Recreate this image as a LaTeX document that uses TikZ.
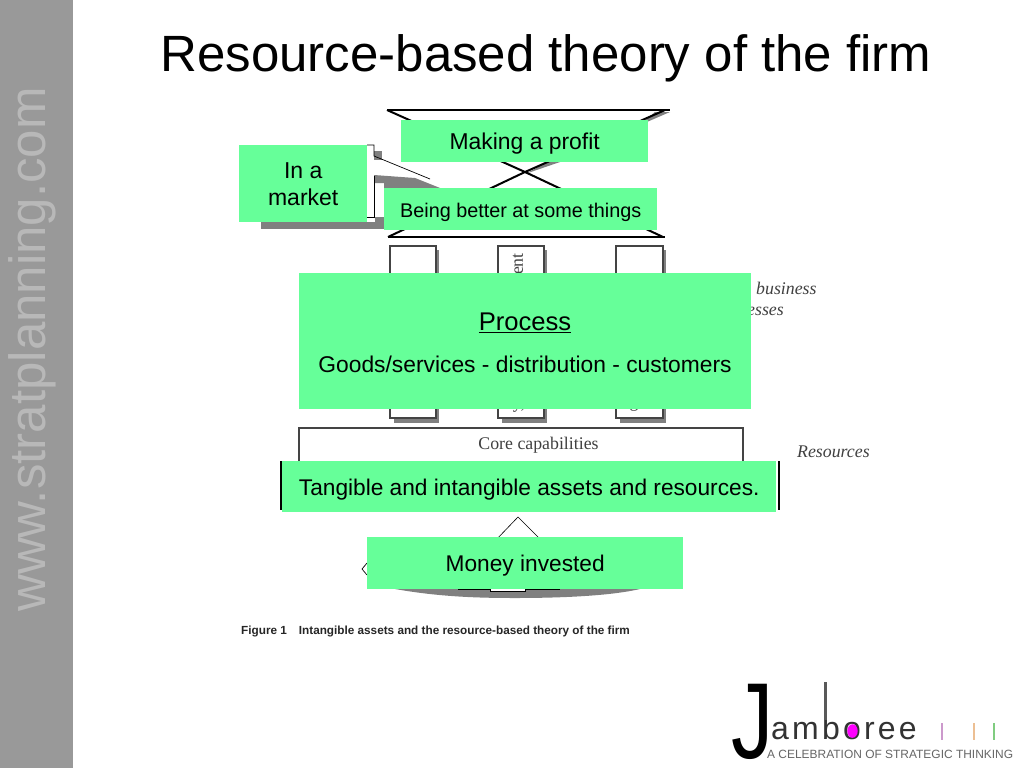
\documentclass[tikz,border=0pt]{standalone}
\usepackage{fontspec}
\setmainfont{Liberation Sans}
\newfontfamily\serifx{Liberation Serif}
\usetikzlibrary{calc}
\definecolor{mint}{HTML}{66FF99}
\definecolor{sidegrey}{HTML}{999999}
\definecolor{sidetext}{HTML}{B8B8B8}
\definecolor{shadecol}{HTML}{808080}
\definecolor{rule}{HTML}{444444}
\definecolor{pinkdot}{HTML}{FF00FF}
\tikzset{
  x=1pt,y=-1pt,
  greenbox/.style={fill=mint,draw=none,inner sep=0pt,text=black,anchor=north west},
  figbox/.style={draw=rule,line width=1.3pt,fill=white},
  shadowfill/.style={fill=shadecol,draw=none},
  scan/.style={font=\serifx\fontsize{17.8}{20}\selectfont,text=black!75,inner sep=0pt},
  scanit/.style={font=\serifx\itshape\fontsize{17.8}{20}\selectfont,text=black!75,inner sep=0pt},
}
\newcommand{\gbox}[6]{\node[greenbox,minimum width=#3pt,minimum height=#4pt,font=\fontsize{#5}{27.6}\selectfont] (#1) at (#2) {\raisebox{-2.8pt}[\height][\depth]{\begin{tabular}{@{}c@{}}#6\end{tabular}}};}
\begin{document}
\begin{tikzpicture}
\useasboundingbox (0,0) rectangle (1024,768);
\fill[white] (0,0) rectangle (1024,768);
% sidebar
\fill[sidegrey] (0,0) rectangle (73,768);
\node[rotate=90,text=sidetext,font=\fontsize{51}{56}\selectfont,inner sep=0pt] (site) at (32,349.5) {www.stratplanning.com};
% title
\node[font=\fontsize{51}{58}\selectfont,inner sep=0pt] (title) at (546,58) {Resource-based theory of the firm};

% hourglass
\fill[shadowfill] (655,112) -- (670,112) -- (640,125) -- cycle;
\fill[shadowfill] (525,174) -- (560,162) -- (548,162) -- cycle;
\draw[line width=1.8pt,black] (387,110) -- (670,110);
\draw[line width=2pt,black] (387,110) -- (525,172) -- (663,237);
\draw[line width=2pt,black] (665,110) -- (525,172) -- (388,237);
\draw[line width=1.8pt,black] (388,237) -- (665,237);

% callout
\fill[shadowfill] (261,222) rectangle (384,229);
\fill[shadowfill] (375,217) rectangle (384,229);
\fill[shadowfill] (374,151) rectangle (382,160);
\fill[shadowfill] (374,175) -- (415,178) -- (440,188) -- (384,188) -- (384,183) -- (374,183) -- cycle;
\draw[line width=.7pt,black] (367,145) -- (374,145) -- (374,156) -- (430,179);
\draw[line width=.7pt,black] (374,176) -- (374,217) -- (367,217);

% three columns
\foreach \nm/\xa/\xb in {colA/390/436,colB/498/544,colC/616/663}{
  \fill[shadowfill] (\xa+4,250) rectangle (\xb+3,423);
  \draw[figbox] (\xa,246) rectangle (\xb,418);
}
\begin{scope}
\clip (498,246) rectangle (544,273);
\node[scan,rotate=90,anchor=east] (colBtxt) at (518,253) {ent};
\end{scope}
\begin{scope}
\clip (498,409) rectangle (544,417);
\node[scan,anchor=base] (colBy) at (519,408) {y,};
\end{scope}
\begin{scope}
\clip (616,409) rectangle (663,417);
\node[scan,anchor=base] (colCg) at (634,407.5) {g};
\end{scope}

\node[scanit,anchor=base west] (biz) at (756,294) {business};
\node[scanit,anchor=base east] (ess) at (784,315) {esses};
\node[scanit,anchor=base west] (res) at (797,457) {Resources};

% core capabilities
\draw[rule,line width=2pt,fill=white] (299,470) -- (299,427.5) -- (743,427.5) -- (743,470);
\node[scan] (core) at (538.5,445) {Core capabilities};
% resources box edges
\draw[black,line width=2.4pt] (281,461) -- (281,510);
\draw[black,line width=2.4pt] (779,461) -- (779,510);

% money triangle and base
\draw[black,line width=.6pt] (494,542) -- (518,517) -- (543,542);
\draw[black,line width=.7pt] (367,563) -- (362,569) -- (367,575);
\fill[shadowfill] (395,589) .. controls (440,597) and (480,598) .. (515,598) .. controls (560,598) and (610,596) .. (640,589) -- cycle;
\fill[white] (490,589) rectangle (525,591);
\draw[black,line width=.6pt] (458,589.5) -- (490,589.5) -- (490,591) -- (525,591) -- (525,589.5) -- (560,589.5);

% green boxes
\gbox{profit}{401,120}{247}{42}{22.9}{Making a profit}
\gbox{market}{239,145}{128}{77}{23}{In a\\market}
\gbox{better}{384,188}{273}{42}{19.8}{Being better at some things}
\node[greenbox,minimum width=452.5pt,minimum height=136pt] (process) at (298.5,273) {};
\node[font=\fontsize{25.6}{30}\selectfont,inner sep=0pt] (proctitle) at (525,323) {\underline{Process}};
\node[font=\fontsize{22.8}{27}\selectfont,inner sep=0pt] (procline) at (525,364) {Goods/services - distribution - customers};
\gbox{assets}{282,461}{494}{51}{22.7}{Tangible and intangible assets and resources.}
\gbox{money}{367,537}{316}{52}{22.7}{Money invested}

% caption
\node[anchor=base west,inner sep=0pt,font=\bfseries\fontsize{11.75}{13}\selectfont,text=black!85] (caption) at (241,634) {Figure 1\hspace{12pt}Intangible assets and the resource-based theory of the firm};

% logo
\node[anchor=base west,inner sep=0pt,xscale=.78,font=\fontsize{108}{110}\selectfont] (bigJ) at (731,758) {J};
\node[anchor=base west,inner sep=0pt,text=black!80,font=\fontsize{32}{36}\selectfont\addfontfeature{LetterSpace=10}] (amb) at (771,739) {amboree};
\draw[line width=2.3pt,black!65] (825.5,682) -- (825.5,720);
\fill[pinkdot] (852.5,731) ellipse (5.2 and 6.8);
\draw[line width=2.2pt,color=violet!40] (942,723) -- (942,740);
\draw[line width=2.2pt,color=orange!40!brown!50] (974,723) -- (974,740);
\draw[line width=2.2pt,color=green!60!black!50] (994,723) -- (994,740);
\node[anchor=base west,inner sep=0pt,text=black!60,font=\fontsize{11.95}{13}\selectfont] (tag) at (767,758) {A CELEBRATION OF STRATEGIC THINKING};
\end{tikzpicture}
\end{document}
